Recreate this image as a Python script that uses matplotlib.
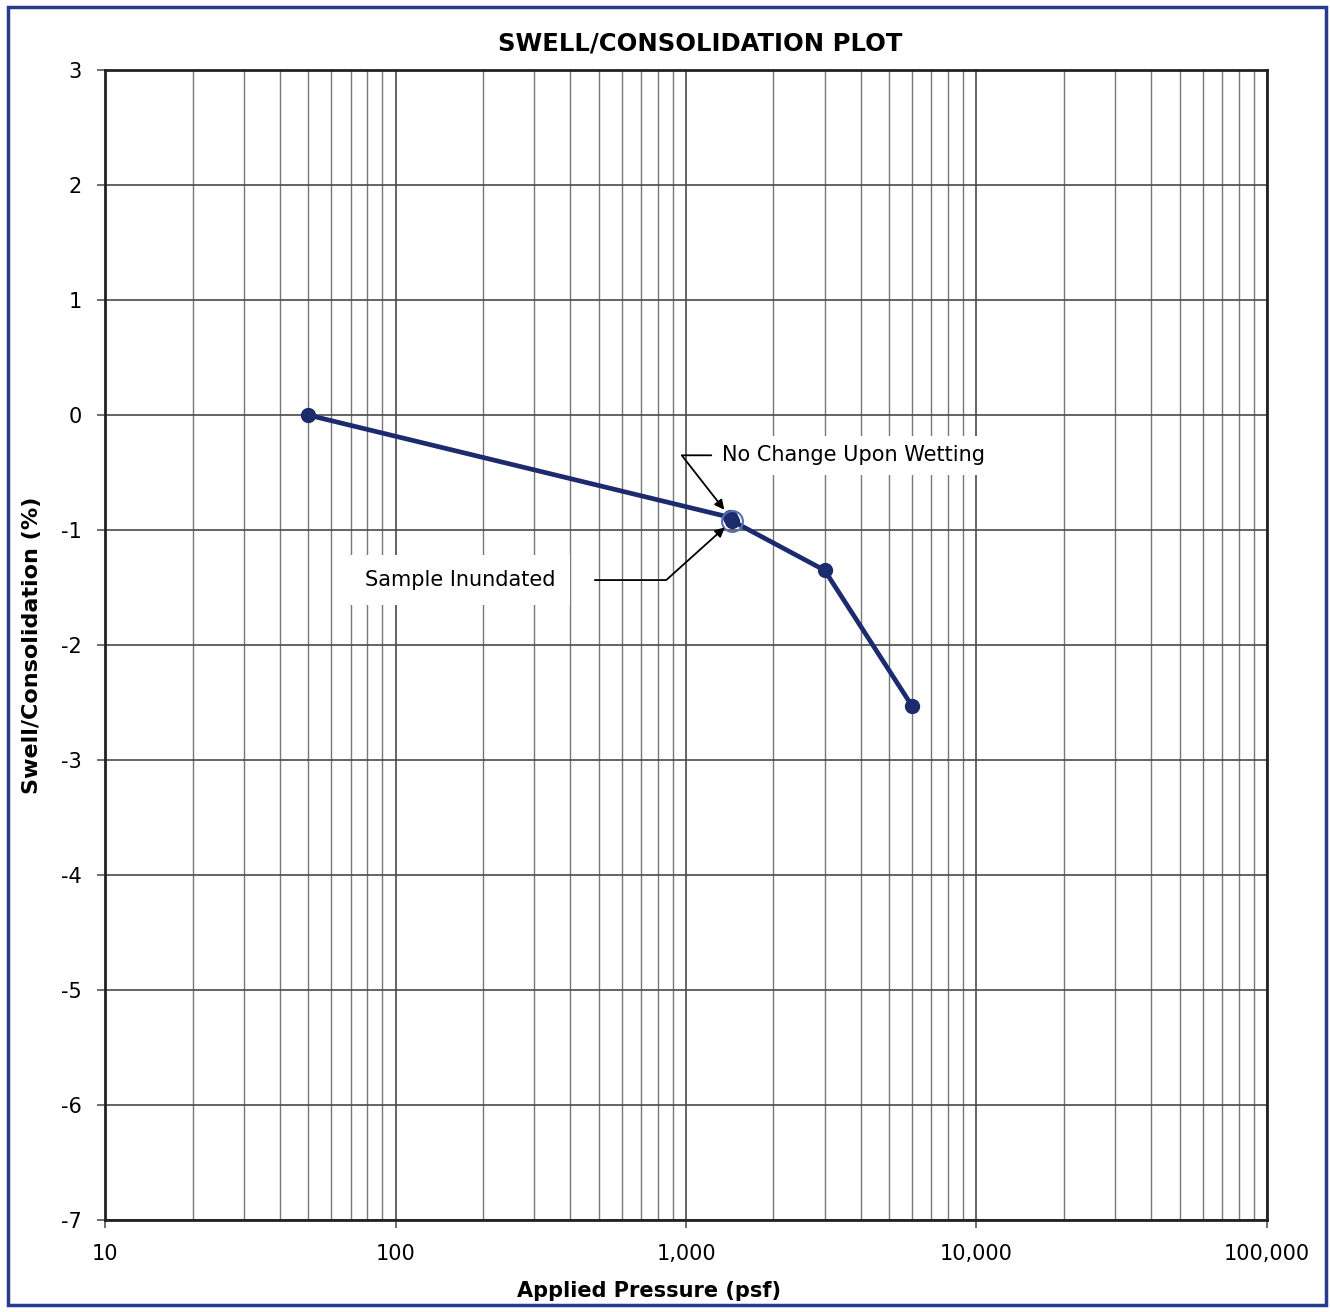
import matplotlib
matplotlib.use("Agg")
import matplotlib.pyplot as plt
from matplotlib.ticker import FixedLocator, FuncFormatter, LogLocator, NullFormatter
from matplotlib.patches import Rectangle

# load test readings
pressure_psf = [50, 1420, 1440, 3000, 6000]
swell_pct = [0.0, -0.89, -0.92, -1.35, -2.53]
inundated_idx = 1
wetting_idx = 2

x_ticks = [10, 100, 1000, 10000, 100000]
y_ticks = [3, 2, 1, 0, -1, -2, -3, -4, -5, -6, -7]

navy = "#1c2a6e"

fig = plt.figure(figsize=(13.3, 13.12), dpi=100)
ax = fig.add_axes([0.079, 0.0701, 0.8736, 0.8765])

# blue frame round the whole sheet
fig.patches.append(Rectangle((0.006, 0.005), 0.991, 0.99, transform=fig.transFigure,
                             fill=False, edgecolor="#2a3a8c", linewidth=2.5))

ax.set_xscale("log")
ax.set_xlim(10, 100000)
ax.set_ylim(-7, 3)

ax.xaxis.set_major_locator(FixedLocator(x_ticks))
ax.xaxis.set_major_formatter(FuncFormatter(lambda v, p: "{:,}".format(int(round(v)))))
ax.xaxis.set_minor_locator(LogLocator(base=10, subs=range(2, 10)))
ax.xaxis.set_minor_formatter(NullFormatter())
ax.yaxis.set_major_locator(FixedLocator(y_ticks))
ax.yaxis.set_major_formatter(FuncFormatter(lambda v, p: "{:d}".format(int(v))))

ax.grid(True, which="major", color="#4a4a4a", linewidth=1.2)
ax.grid(True, which="minor", axis="x", color="#777777", linewidth=1.0)
ax.set_axisbelow(True)

ax.tick_params(which="major", direction="out", length=6, width=1.2, color="#555555",
               labelsize=15, pad=11)
ax.tick_params(which="minor", length=0)

for s in ax.spines.values():
    s.set_linewidth(2)
    s.set_color("#222222")

ax.plot(pressure_psf, swell_pct, color=navy, linewidth=3.4, marker="o",
        markersize=10, markerfacecolor=navy, markeredgecolor=navy, zorder=5)
ax.plot(pressure_psf[wetting_idx], swell_pct[wetting_idx], marker="o", markersize=15,
        markerfacecolor="none", markeredgecolor="#5a6fb0", markeredgewidth=1.5, zorder=6)

arrow_kw = dict(arrowstyle="-|>", color="black", linewidth=1.3, mutation_scale=14)

ax.annotate("No Change Upon Wetting",
            xy=(pressure_psf[inundated_idx], swell_pct[inundated_idx]),
            xytext=(0.531, 0.665), textcoords="axes fraction",
            fontsize=15, ha="left", va="center",
            bbox=dict(boxstyle="square,pad=0.45", facecolor="white", edgecolor="none"),
            arrowprops=dict(relpos=(0, 0.5), shrinkA=1, shrinkB=7,
                            connectionstyle="angle,angleA=0,angleB=128,rad=0", **arrow_kw),
            zorder=7)

ax.annotate("Sample Inundated",
            xy=(pressure_psf[wetting_idx], swell_pct[wetting_idx]),
            xytext=(0.2235, 0.5565), textcoords="axes fraction",
            fontsize=15, ha="left", va="center",
            bbox=dict(boxstyle="square,pad=0.7", facecolor="white", edgecolor="none"),
            arrowprops=dict(relpos=(1, 0.5), shrinkA=18, shrinkB=7,
                            connectionstyle="angle,angleA=0,angleB=42,rad=0", **arrow_kw),
            zorder=7)

ax.set_title("SWELL/CONSOLIDATION PLOT", fontsize=17.5, fontweight="bold", pad=14, x=0.512)
ax.set_xlabel("Applied Pressure (psf)", fontsize=15, fontweight="bold")
ax.xaxis.set_label_coords(0.468, -0.053)
ax.set_ylabel("Swell/Consolidation (%)", fontsize=16, fontweight="bold")
ax.yaxis.set_label_coords(-0.054, 0.5)

fig.savefig("out.png", dpi=100, facecolor="white")
